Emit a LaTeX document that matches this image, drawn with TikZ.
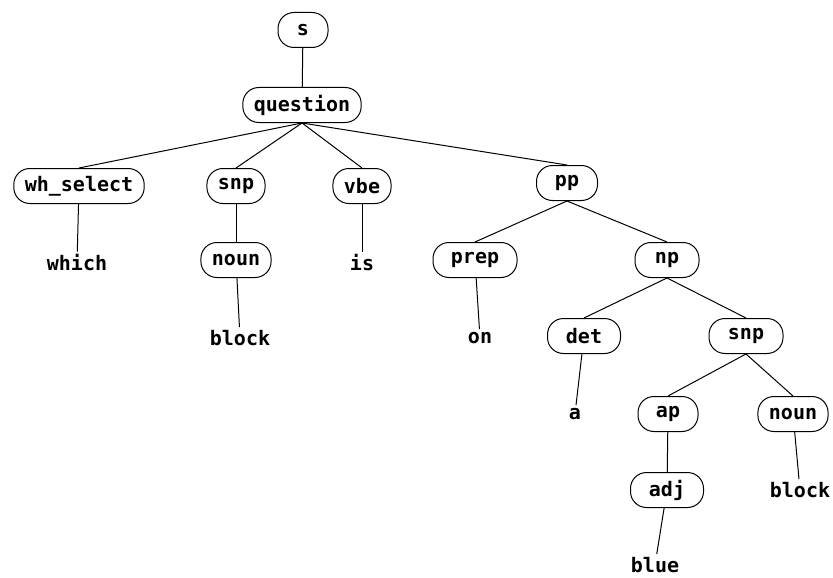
\documentclass[tikz,border=0pt]{standalone}
\usepackage{fontspec}
\setmonofont{DejaVu Sans Mono}
\usepackage{tikz}
\usetikzlibrary{positioning}

\begin{document}
\begin{tikzpicture}[
    x=1pt, y=-1pt,
    cat/.style={rectangle, rounded corners=16pt, draw, line width=1pt, minimum height=35pt, minimum width=50pt, inner xsep=11pt, font=\fontsize{20}{22}\selectfont\ttfamily\bfseries},
    word/.style={inner sep=3pt, font=\fontsize{20}{22}\selectfont\ttfamily\bfseries},
    edge/.style={line width=1pt}
]
    \useasboundingbox (0,0) rectangle (833,578);

    % Categories
    \node[cat] (s) at (303,30) {s};
    \node[cat] (question) at (302,105) {question};

    \node[cat] (whselect) at (79,186) {wh\_select};
    \node[cat] (snpa) at (236,186) {snp};
    \node[cat] (vbe) at (362,186) {vbe};
    \node[cat, minimum width=61pt] (pp) at (567,183) {pp};

    \node[cat] (nouna) at (236,260) {noun};
    \node[cat, minimum width=84pt] (prep) at (475,260) {prep};
    \node[cat, minimum width=64pt] (np) at (667,260) {np};

    \node[cat, minimum width=73pt] (det) at (584,336) {det};
    \node[cat, minimum width=74pt] (snpb) at (746,336) {snp};

    \node[cat, minimum width=60pt] (ap) at (668,414) {ap};
    \node[cat] (nounb) at (793,414) {noun};
    \node[cat, minimum width=73pt] (adj) at (667,490) {adj};

    % Words
    \node[word] (which) at (77,263) {which};
    \node[word] (is) at (362,263) {is};
    \node[word] (blocka) at (240,338) {block};
    \node[word] (on) at (480,338) {on};
    \node[word] (a) at (575,414) {a};
    \node[word] (blockb) at (800,490) {block};
    \node[word] (blue) at (655,565) {blue};

    % Branches
    \draw[edge] (s) -- (question);
    \draw[edge] (question.south) -- (whselect.north);
    \draw[edge] (question.south) -- (snpa.north);
    \draw[edge] (question.south) -- (vbe.north);
    \draw[edge] (question.south) -- (pp.north);
    \draw[edge] (whselect) -- (which);
    \draw[edge] (snpa) -- (nouna);
    \draw[edge] (nouna) -- (blocka);
    \draw[edge] (vbe) -- (is);
    \draw[edge] (pp.south) -- (prep.north);
    \draw[edge] (pp.south) -- (np.north);
    \draw[edge] (prep) -- (on);
    \draw[edge] (np.south) -- (det.north);
    \draw[edge] (np.south) -- (snpb.north);
    \draw[edge] (det) -- (a);
    \draw[edge] (snpb.south) -- (ap.north);
    \draw[edge] (snpb.south) -- (nounb.north);
    \draw[edge] (ap) -- (adj);
    \draw[edge] (adj) -- (blue);
    \draw[edge] (nounb) -- (blockb);

\end{tikzpicture}
\end{document}
